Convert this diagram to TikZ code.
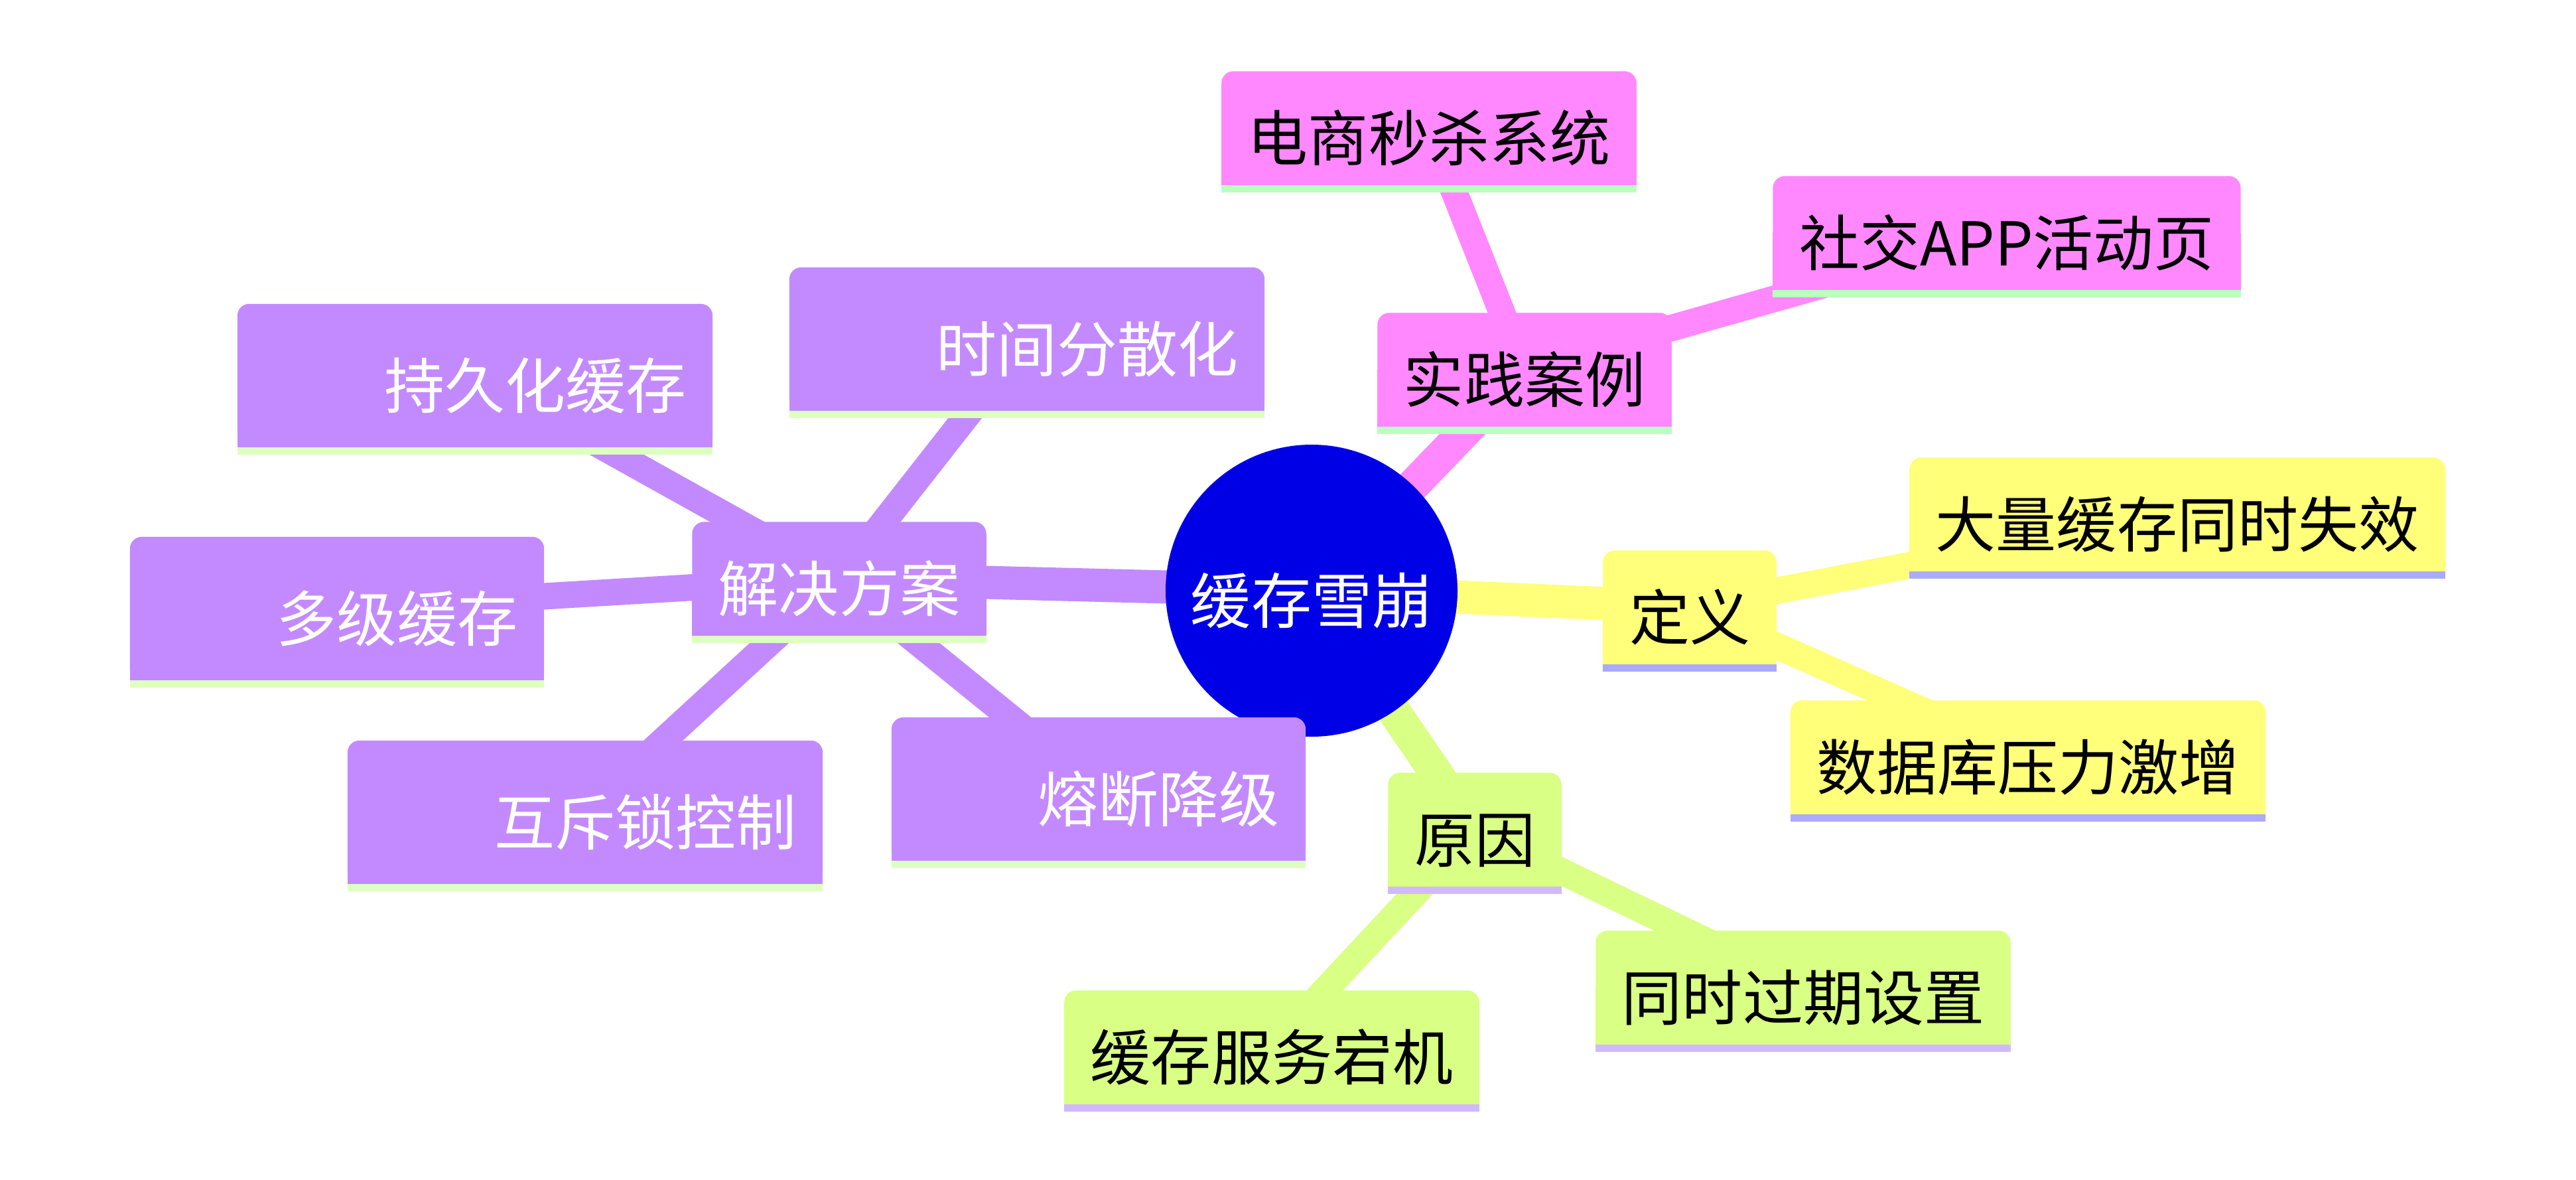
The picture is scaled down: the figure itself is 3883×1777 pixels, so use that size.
\documentclass[tikz,border=0pt]{standalone}
\usepackage{fontspec}
\newfontfamily\cjk{Noto Sans CJK SC}
\usetikzlibrary{backgrounds}
\definecolor{rootblue}{HTML}{0000E6}
\definecolor{casepink}{HTML}{FF88FF}
\definecolor{casestrip}{HTML}{B8FFC0}
\definecolor{defyellow}{HTML}{FFFF7A}
\definecolor{defstrip}{HTML}{AAAAFF}
\definecolor{whylime}{HTML}{D9FF84}
\definecolor{whystrip}{HTML}{D1B9FF}
\definecolor{solpurple}{HTML}{C38AFF}
\definecolor{solstrip}{HTML}{DDFFC0}

\begin{document}
\begin{tikzpicture}[x=0.1mm,y=-0.1mm,
  every node/.style={font=\cjk\fontsize{25.9}{30}\selectfont,text height=33.4pt,text depth=5.2pt,inner ysep=0pt},
  topic/.style={minimum height=17mm,inner xsep=3.9mm},
  idea/.style={minimum height=21.5mm,inner xsep=3.9mm,text=white,align=right,text width=#1},
  branch/.style={line width=5mm},
  twig/.style={line width=4mm}]
\useasboundingbox (0,0) rectangle (3883,1777);
\node[circle,text=white] (root) at (1977,890) {缓存雪崩};
\node[topic] (case) at (2298,557) {实践案例};
\node[topic] (sec) at (2154,193) {电商秒杀系统};
\node[topic] (app) at (3025,351) {社交APP活动页};
\node[topic] (def) at (2547,915) {定义};
\node[topic] (mass) at (3282,775) {大量缓存同时失效};
\node[topic] (db) at (3057,1141) {数据库压力激增};
\node[topic] (why) at (2223,1250) {原因};
\node[topic] (exp) at (2718,1488) {同时过期设置};
\node[topic] (down) at (1917,1578) {缓存服务宕机};
\node[topic,text=white] (sol) at (1265,872) {解决方案};
\node[idea=63.7mm] (pers) at (716,566) {持久化缓存};
\node[idea=63.7mm] (time) at (1548,511) {时间分散化};
\node[idea=54.5mm] (multi) at (508,917) {多级缓存};
\node[idea=63.7mm] (lock) at (882,1224) {互斥锁控制};
\node[idea=54.5mm] (fuse) at (1656,1189) {熔断降级};
\begin{scope}[on background layer]
\draw[branch,casepink] (root.center) -- (case.center);
\draw[twig,casepink] (case.center) -- (sec.center);
\draw[twig,casepink] (case.center) -- (app.center);
\draw[branch,defyellow] (root.center) -- (def.center);
\draw[twig,defyellow] (def.center) -- (mass.center);
\draw[twig,defyellow] (def.center) -- (db.center);
\draw[branch,whylime] (root.center) -- (why.center);
\draw[twig,whylime] (why.center) -- (exp.center);
\draw[twig,whylime] (why.center) -- (down.center);
\draw[branch,solpurple] (root.center) -- (sol.center);
\foreach \n in {pers,time,multi,lock,fuse}
  \draw[twig,solpurple] (sol.center) -- (\n.center);
\fill[rootblue] (root.center) circle[radius=220];
\foreach \n/\c/\s in {case/casepink/casestrip,sec/casepink/casestrip,app/casepink/casestrip,
    def/defyellow/defstrip,mass/defyellow/defstrip,db/defyellow/defstrip,
    why/whylime/whystrip,exp/whylime/whystrip,down/whylime/whystrip,
    sol/solpurple/solstrip,pers/solpurple/solstrip,time/solpurple/solstrip,
    multi/solpurple/solstrip,lock/solpurple/solstrip,fuse/solpurple/solstrip}{
  \fill[\c,rounded corners=1.8mm] (\n.south west) rectangle (\n.north east);
  \fill[\c] (\n.south west) rectangle (\n.east);
  \fill[\s] (\n.south west) rectangle ([yshift=-1.1mm]\n.south east);
}
\end{scope}
\end{tikzpicture}
\end{document}
